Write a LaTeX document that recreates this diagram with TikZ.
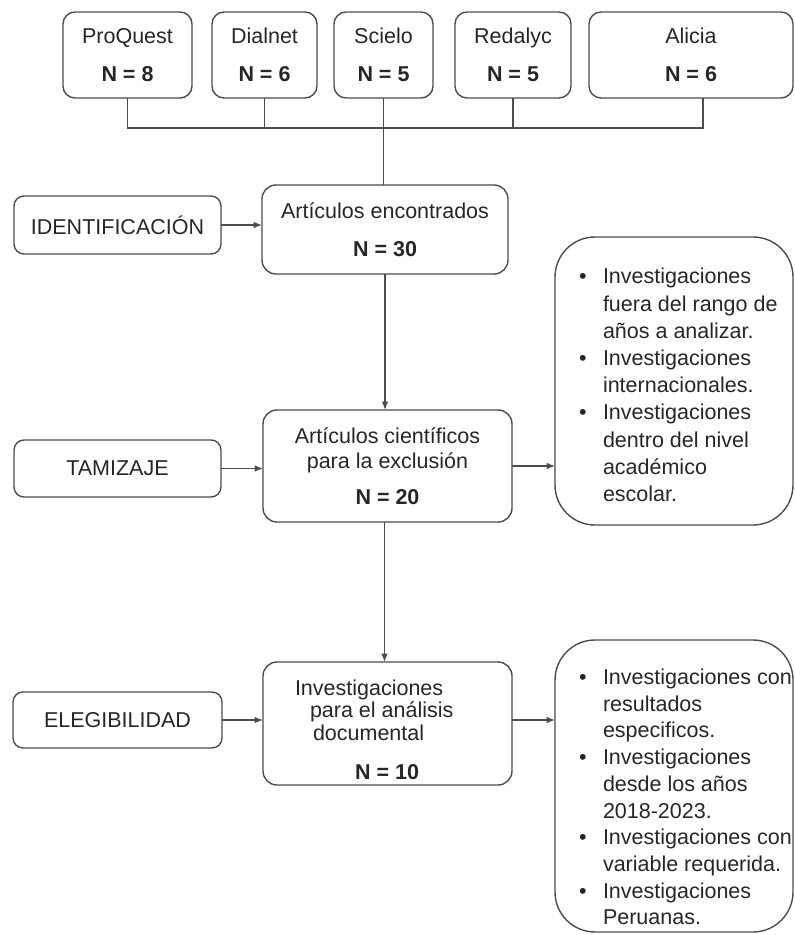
\documentclass[tikz,border=0pt]{standalone}
\usepackage{fontspec}
\setmainfont{Liberation Sans}
\usetikzlibrary{arrows.meta}
\begin{document}
\begin{tikzpicture}[x=0.5pt,y=-0.5pt,
  every node/.style={text=black!85, font=\fontsize{10.75}{12.5}\selectfont},
  box/.style={draw=black!70, line width=0.7pt, rounded corners=6pt, inner sep=0pt, outer sep=0pt, align=center},
  sidebox/.style={box, rounded corners=5pt},
  midbox/.style={box, rounded corners=7pt},
  bigbox/.style={box, rounded corners=20pt},
  txt/.style={inner sep=0pt, outer sep=0pt},
  conn/.style={draw=black!70, line width=0.7pt},
  arr/.style={conn, -{Latex[length=4.2pt,width=3.4pt]}}]
\useasboundingbox (0,0) rectangle (795,935);

% top sources
\node[box, minimum width=64.5pt, minimum height=43pt] (pq) at (127.5,55) {ProQuest\\[6.5pt]\textbf{N = 8}};
\node[box, minimum width=52.5pt, minimum height=43pt] (dn) at (264.5,55) {Dialnet\\[6.5pt]\textbf{N = 6}};
\node[box, minimum width=49.5pt, minimum height=43pt] (sc) at (383.5,55) {Scielo\\[6.5pt]\textbf{N = 5}};
\node[box, minimum width=58pt, minimum height=43pt] (rd) at (513,55) {Redalyc\\[6.5pt]\textbf{N = 5}};
\node[box, minimum width=102pt, minimum height=43pt] (al) at (691,55) {Alicia\\[6.5pt]\textbf{N = 6}};

% middle column
\node[midbox, minimum width=123pt, minimum height=44.5pt] (enc) at (385,229.5) {Artículos encontrados\\[6.5pt]\textbf{N = 30}};
\node[midbox, minimum width=124.5pt, minimum height=56pt] (cie) at (387.5,466) {Artículos científicos\\para la exclusión\\[5.5pt]\textbf{N = 20}};
\node[midbox, minimum width=124.5pt, minimum height=61.5pt] (inv) at (387.5,723.5) {};
\node[txt, anchor=west, align=left, font=\fontsize{10.75}{11.25}\selectfont] (invt) at (295,710) {Investigaciones\\\hspace*{7.5pt}para el análisis\\\hspace*{9pt}documental};
\node[txt] (invn) at (387,772) {\textbf{N = 10}};

% left stage labels
\node[sidebox, minimum width=103.5pt, minimum height=29pt] (ident) at (117.5,225) {IDENTIFICACIÓN};
\node[sidebox, minimum width=103.5pt, minimum height=28.5pt] (tam) at (117.5,468.5) {TAMIZAJE};
\node[sidebox, minimum width=104.5pt, minimum height=28pt] (eleg) at (117.5,720) {ELEGIBILIDAD};

% right criteria boxes
\node[bigbox, minimum width=119pt, minimum height=144pt] (ex1) at (674,381) {};
\node[txt, anchor=west, align=left, font=\fontsize{10.75}{13.6}\selectfont] (ex1t) at (579,385) {%
\makebox[12pt][l]{\textbullet}Investigaciones\\
\hspace*{12pt}fuera del rango de\\
\hspace*{12pt}años a analizar.\\
\makebox[12pt][l]{\textbullet}Investigaciones\\
\hspace*{12pt}internacionales.\\
\makebox[12pt][l]{\textbullet}Investigaciones\\
\hspace*{12pt}dentro del nivel\\
\hspace*{12pt}académico\\
\hspace*{12pt}escolar.};

\node[bigbox, minimum width=119pt, minimum height=146pt] (ex2) at (674,786) {};
\node[txt, anchor=west, align=left, font=\fontsize{10.75}{13.35}\selectfont] (ex2t) at (579,797) {%
\makebox[12pt][l]{\textbullet}Investigaciones con\\
\hspace*{12pt}resultados\\
\hspace*{12pt}especificos.\\
\makebox[12pt][l]{\textbullet}Investigaciones\\
\hspace*{12pt}desde los años\\
\hspace*{12pt}2018-2023.\\
\makebox[12pt][l]{\textbullet}Investigaciones con\\
\hspace*{12pt}variable requerida.\\
\makebox[12pt][l]{\textbullet}Investigaciones\\
\hspace*{12pt}Peruanas.};

% source connectors
\coordinate (hl) at (127.5,128);
\coordinate (hr) at (703,128);
\draw[conn] (pq.south) -- (hl) -- (hr) -- (hr |- al.south);
\draw[conn] (dn.south) -- (dn.south |- hl);
\draw[conn] (rd.south) -- (rd.south |- hl);
\draw[conn] (sc.south) -- (sc.south |- enc.north);

% flow arrows
\draw[arr] (ident.east) -- (ident.east -| enc.west);
\draw[arr] (enc.south) -- (enc.south |- cie.north);
\draw[arr] (tam.east) -- (tam.east -| cie.west);
\draw[arr] (cie.east) -- (cie.east -| ex1.west);
\draw[arr] ([xshift=-1.5pt]cie.south) -- ([xshift=-1.5pt]inv.north);
\draw[arr] (eleg.east) -- (eleg.east -| inv.west);
\draw[arr] (eleg.east -| inv.east) -- (eleg.east -| ex2.west);
\end{tikzpicture}
\end{document}
